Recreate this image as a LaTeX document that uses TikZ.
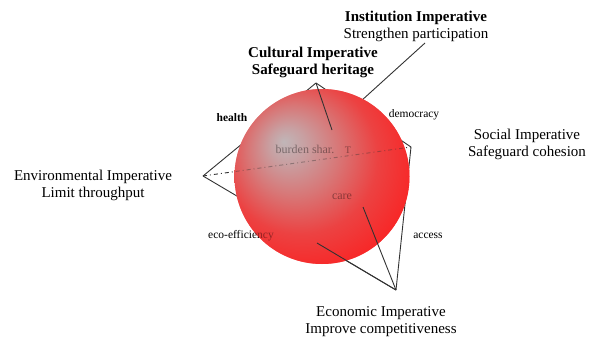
\documentclass[tikz,border=0pt]{standalone}
\usepackage{fontspec}
\setmainfont{Liberation Serif}
\definecolor{hlc}{RGB}{192,182,184}
\definecolor{hlc2}{RGB}{200,160,162}
\definecolor{midc}{RGB}{216,118,118}
\definecolor{edgec}{RGB}{236,66,66}
\definecolor{redc}{RGB}{248,38,38}
\definecolor{linec}{RGB}{50,50,50}
\pgfdeclareradialshading{refball}{\pgfpoint{-11bp}{10bp}}{color(0bp)=(hlc); color(5bp)=(hlc2); color(13bp)=(midc); color(22bp)=(edgec); color(31bp)=(redc); color(50bp)=(redc)}
\begin{document}
\begin{tikzpicture}[x=1pt,y=-1pt,
  big/.style={font=\fontsize{15}{17}\selectfont, align=center, inner sep=0pt},
  bigb/.style={big, font=\fontsize{15}{17}\selectfont\bfseries},
  small/.style={font=\fontsize{11.5}{13}\selectfont, inner sep=0pt},
  inner/.style={font=\fontsize{12}{14}\selectfont, inner sep=0pt},
  edge/.style={draw=linec, line width=0.9pt},
  axis/.style={draw=linec, line width=0.9pt, dash pattern=on 4pt off 3pt on 1pt off 3pt}]
\useasboundingbox (0,0) rectangle (589,343);
% vertices
\coordinate (E) at (203,176);
\coordinate (C) at (316,83);
\coordinate (S) at (411,147);
\coordinate (K) at (396,290);
\coordinate (P1) at (317,243);
\coordinate (F1) at (332,130);
\coordinate (F2) at (363,207);
\coordinate (I1) at (350,111);
\coordinate (I2) at (425,43);
\coordinate (O) at (322,176.5);
% back edges
\draw[edge] (E) -- (C);
\draw[edge] (C) -- (S);
\draw[edge] (E) -- (K);
\draw[edge] (K) -- (S);
\draw[edge] (I1) -- (I2);
% sphere (opaque)
\shade[shading=refball] (O) circle[radius=87.5pt];
% texts seen through the sphere
\node[inner] (burden) at (305,149) {burden shar.};
\node[font=\fontsize{10}{11}\selectfont, inner sep=0pt] (tmark) at (348,150) {T};
\node[inner] (care) at (342,197) {care};
\node[small] (eco) at (241,236) {eco-efficiency};
\draw[axis] (E) -- (S);
% sphere overlay
\shade[shading=refball, fill opacity=0.62] (O) circle[radius=87.5pt];
% front edges
\draw[edge] (C) -- (F1);
\draw[edge] (P1) -- (K);
\draw[edge] (F2) -- (K);
% labels
\node[big] (inst) at (416,26) {{\bfseries Institution Imperative}\\Strengthen participation};
\node[bigb] (cult) at (313,62) {Cultural Imperative\\Safeguard heritage};
\node[big] (soc) at (527,144) {Social Imperative\\Safeguard cohesion};
\node[big] (env) at (93,185) {Environmental Imperative\\Limit throughput};
\node[big] (econ) at (381,321.5) {Economic Imperative\\Improve competitiveness};
\node[small, font=\fontsize{11.5}{13}\selectfont\bfseries] (health) at (232,118) {health};
\node[small] (demo) at (414,115) {democracy};
\node[small] (access) at (428,236) {access};
\end{tikzpicture}
\end{document}
